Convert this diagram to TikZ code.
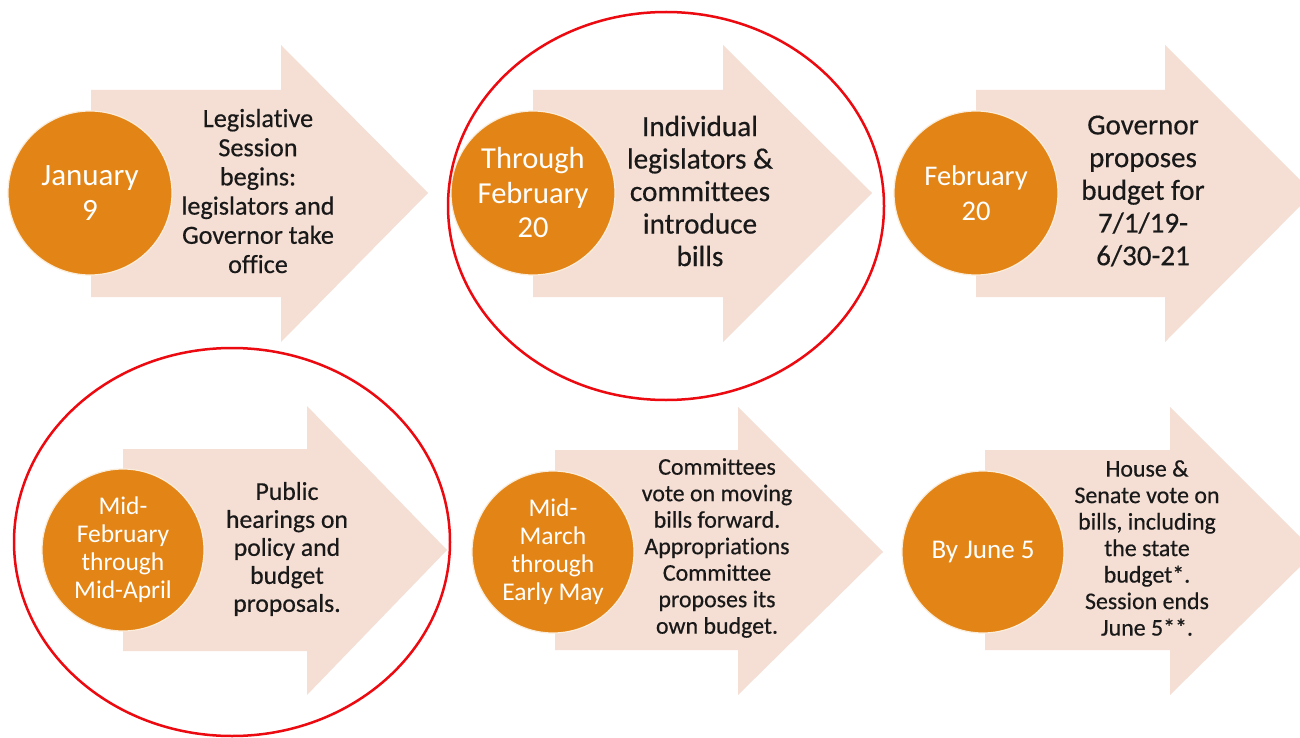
\documentclass[tikz,border=0pt]{standalone}
\usepackage{fontspec}
\setmainfont{Carlito}[Ligatures=NoCommon]
\newfontfamily\descfont{Carlito}[Ligatures=NoCommon, FakeBold=0.5]
\definecolor{arrowfill}{RGB}{245,222,211}
\definecolor{dotorange}{RGB}{227,133,22}
\definecolor{ringred}{RGB}{236,10,16}
\definecolor{txtdark}{RGB}{25,25,25}
\begin{document}
\begin{tikzpicture}[x=1pt,y=-1pt,
  chevron/.style={fill=arrowfill},
  datedot/.style={circle, fill=dotorange, draw=white!85!dotorange, line width=1.2pt, minimum size=164pt, inner sep=0pt, text=white, align=center},
  desc/.style={text=txtdark, align=center, inner sep=0pt},
  ring/.style={draw=ringred, line width=2.5pt}]
\useasboundingbox[fill=white] (0,0) rectangle (1300,738);
% top row arrows
\fill[chevron] (91,90) -- (281,90) -- (281,45) -- (428,193) -- (281,342) -- (281,297) -- (91,297) -- cycle;
\fill[chevron] (533,90) -- (723,90) -- (723,45) -- (872,193) -- (723,342) -- (723,297) -- (533,297) -- cycle;
\fill[chevron] (976,90) -- (1165,90) -- (1165,45) -- (1313,193) -- (1165,342) -- (1165,297) -- (976,297) -- cycle;
% bottom row arrows
\fill[chevron] (123,449) -- (307,449) -- (307,406) -- (447,550) -- (307,695) -- (307,651) -- (123,651) -- cycle;
\fill[chevron] (555,450) -- (738,450) -- (738,407) -- (883,552) -- (738,695) -- (738,650) -- (555,650) -- cycle;
\fill[chevron] (985,450) -- (1170,450) -- (1170,407) -- (1315,552) -- (1170,695) -- (1170,650) -- (985,650) -- cycle;
% date circles
\node[datedot, font=\fontsize{31}{35}\selectfont] (d1) at (90,193) {January\\9};
\node[datedot, font=\fontsize{30.5}{34.5}\selectfont] (d2) at (533,193) {Through\\February\\20};
\node[datedot, font=\fontsize{28.5}{35}\selectfont] (d3) at (976,193) {February\\20};
\node[datedot, minimum size=162pt, font=\fontsize{25.5}{28}\selectfont] (d4) at (123,550) {Mid-\\February\\through\\Mid-April};
\node[datedot, minimum size=162pt, font=\fontsize{25.5}{28}\selectfont] (d5) at (553,552) {Mid-\\March\\through\\Early May};
\node[datedot, minimum size=162pt, font=\fontsize{27}{28}\selectfont] (d6) at (983,552) {By June 5};
% descriptions
\node[desc, font=\descfont\fontsize{26.2}{29.2}\selectfont] (t1) at (258,191) {Legislative\\Session\\begins:\\legislators and\\Governor take\\office};
\node[desc, font=\descfont\fontsize{29.2}{32.5}\selectfont] (t2) at (700,191) {Individual\\legislators \&\\committees\\introduce\\bills};
\node[desc, font=\descfont\fontsize{29}{32.7}\selectfont] (t3) at (1143,191) {Governor\\proposes\\budget for\\7/1/19-\\6/30-21};
\node[desc, font=\descfont\fontsize{25.7}{28}\selectfont] (t4) at (287,549) {Public\\hearings on\\policy and\\budget\\proposals.};
\node[desc, font=\descfont\fontsize{23.9}{26.5}\selectfont] (t5) at (717,548) {Committees\\vote on moving\\bills forward.\\Appropriations\\Committee\\proposes its\\own budget.};
\node[desc, font=\descfont\fontsize{23.9}{26.5}\selectfont] (t6) at (1147,548) {House \&\\Senate vote on\\bills, including\\the state\\budget*.\\Session ends\\June 5**.};
% red highlight rings
\draw[ring] (666,206) ellipse [x radius=218, y radius=194];
\draw[ring] (232,542) ellipse [x radius=218, y radius=194];
\end{tikzpicture}
\end{document}
